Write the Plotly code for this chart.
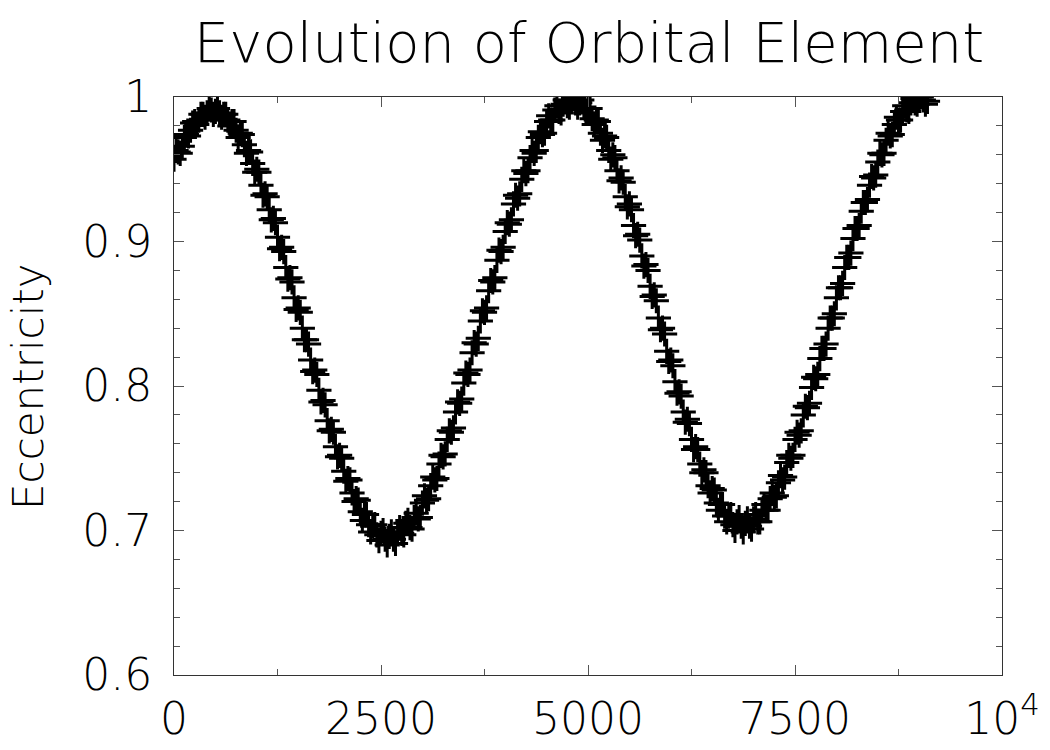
import plotly.graph_objects as go

time = list(range(0, 9101, 50))
ecc = [
    0.957, 0.962, 0.966, 0.974, 0.977, 0.983, 0.984, 0.988, 0.989, 0.991,
    0.990, 0.989, 0.988, 0.984, 0.983, 0.977, 0.975, 0.967, 0.963, 0.954,
    0.950, 0.939, 0.933, 0.922, 0.916, 0.903, 0.896, 0.882, 0.875, 0.861,
    0.854, 0.840, 0.832, 0.818, 0.811, 0.797, 0.790, 0.776, 0.770, 0.758,
    0.752, 0.741, 0.736, 0.726, 0.722, 0.713, 0.711, 0.704, 0.703, 0.697,
    0.698, 0.694, 0.696, 0.694, 0.698, 0.698, 0.705, 0.702, 0.709, 0.708,
    0.719, 0.721, 0.731, 0.735, 0.746, 0.751, 0.763, 0.768, 0.782, 0.788,
    0.802, 0.808, 0.823, 0.829, 0.845, 0.851, 0.866, 0.872, 0.887, 0.893,
    0.907, 0.912, 0.926, 0.930, 0.943, 0.947, 0.958, 0.961, 0.972, 0.974,
    0.983, 0.984, 0.991, 0.990, 0.995, 0.994, 0.997, 0.996, 0.996, 0.993,
    0.992, 0.985, 0.984, 0.975, 0.973, 0.963, 0.960, 0.949, 0.944, 0.931,
    0.926, 0.911, 0.905, 0.890, 0.884, 0.869, 0.863, 0.847, 0.840, 0.824,
    0.818, 0.803, 0.796, 0.782, 0.777, 0.763, 0.758, 0.746, 0.742, 0.731,
    0.729, 0.719, 0.718, 0.710, 0.710, 0.704, 0.706, 0.703, 0.705, 0.703,
    0.708, 0.706, 0.714, 0.714, 0.722, 0.723, 0.733, 0.735, 0.747, 0.750,
    0.763, 0.766, 0.780, 0.785, 0.799, 0.805, 0.819, 0.826, 0.840, 0.847,
    0.861, 0.868, 0.882, 0.889, 0.902, 0.909, 0.921, 0.927, 0.939, 0.944,
    0.955, 0.960, 0.970, 0.973, 0.981, 0.984, 0.990, 0.991, 0.996, 0.996,
    0.998, 0.998, 0.997,
]

time_mid = list(range(25, 9076, 50))
ecc_mid = [
    0.963, 0.961, 0.972, 0.973, 0.982, 0.981, 0.988, 0.986, 0.992, 0.988,
    0.992, 0.986, 0.988, 0.980, 0.983, 0.972, 0.974, 0.961, 0.962, 0.948,
    0.948, 0.932, 0.931, 0.915, 0.913, 0.895, 0.893, 0.874, 0.872, 0.853,
    0.851, 0.832, 0.829, 0.810, 0.808, 0.789, 0.787, 0.769, 0.768, 0.751,
    0.750, 0.734, 0.735, 0.720, 0.721, 0.707, 0.711, 0.699, 0.704, 0.693,
    0.700, 0.690, 0.699, 0.691, 0.702, 0.697, 0.707, 0.701, 0.712, 0.709,
    0.724, 0.722, 0.737, 0.736, 0.752, 0.753, 0.769, 0.771, 0.789, 0.791,
    0.809, 0.811, 0.830, 0.833, 0.852, 0.854, 0.873, 0.875, 0.894, 0.896,
    0.913, 0.915, 0.932, 0.933, 0.949, 0.949, 0.963, 0.963, 0.976, 0.975,
    0.987, 0.984, 0.994, 0.989, 0.998, 0.993, 0.999, 0.993, 0.998, 0.989,
    0.992, 0.981, 0.983, 0.970, 0.972, 0.957, 0.958, 0.942, 0.941, 0.924,
    0.922, 0.904, 0.901, 0.883, 0.880, 0.862, 0.859, 0.839, 0.836, 0.817,
    0.814, 0.795, 0.793, 0.775, 0.774, 0.756, 0.756, 0.740, 0.740, 0.726,
    0.728, 0.714, 0.718, 0.706, 0.711, 0.700, 0.709, 0.699, 0.708, 0.701,
    0.711, 0.706, 0.718, 0.714, 0.726, 0.724, 0.738, 0.737, 0.752, 0.752,
    0.768, 0.769, 0.786, 0.788, 0.806, 0.808, 0.826, 0.829, 0.847, 0.850,
    0.868, 0.871, 0.889, 0.892, 0.909, 0.911, 0.927, 0.929, 0.945, 0.946,
    0.961, 0.961, 0.975, 0.974, 0.986, 0.984, 0.994, 0.990, 0.999, 0.995,
    1.000, 0.995,
]

x_tickvals = [0, 2500, 5000, 7500, 10000]
x_ticktext = ["0", "2500", "5000", "7500", "10<sup>4</sup>"]
y_tickvals = [0.6, 0.7, 0.8, 0.9, 1.0]
y_ticktext = ["0.6", "0.7", "0.8", "0.9", "1"]

FONT = "DejaVu Sans"
W = 200

fig = go.Figure()
fig.add_trace(go.Scatter(
    x=time + time_mid, y=ecc + ecc_mid, mode="markers",
    marker=dict(symbol="cross-thin-open", size=18, color="black",
                line=dict(color="black", width=3)),
    cliponaxis=True, showlegend=False,
))

axis_common = dict(
    showgrid=False, zeroline=False, showline=True, linecolor="#333333",
    linewidth=1, mirror="ticks", ticks="inside", tickcolor="#555555",
    tickwidth=1, ticklen=10, automargin=False,
    tickfont=dict(family=FONT, size=44, color="black", weight=W),
)

fig.update_xaxes(
    range=[0, 10000], tickvals=x_tickvals, ticktext=x_ticktext,
    minor=dict(dtick=1250, tick0=0, ticks="inside", ticklen=6,
               tickcolor="#555555", showgrid=False),
    ticklabelstandoff=5,
    **axis_common,
)
fig.update_yaxes(
    range=[0.6, 1.0], tickvals=y_tickvals, ticktext=y_ticktext,
    minor=dict(dtick=0.02, tick0=0.6, ticks="inside", ticklen=6,
               tickcolor="#555555", showgrid=False),
    ticklabelstandoff=12,
    **axis_common,
)

fig.update_layout(
    width=1050, height=750,
    margin=dict(l=174, r=48, t=97, b=75),
    paper_bgcolor="white", plot_bgcolor="white",
    title=dict(text="Evolution of Orbital Element", x=0.561, xanchor="center",
               y=1 - 42 / 750, yanchor="middle", yref="container",
               font=dict(family=FONT, size=56, color="black", weight=W)),
    annotations=[dict(
        text="Eccentricity", textangle=-90, xref="paper", yref="paper",
        x=(28 - 174) / 828, y=(675 - 387) / 578, xanchor="center",
        yanchor="middle", showarrow=False,
        font=dict(family=FONT, size=42, color="black", weight=W),
    )],
)

fig.write_html("out.html")
